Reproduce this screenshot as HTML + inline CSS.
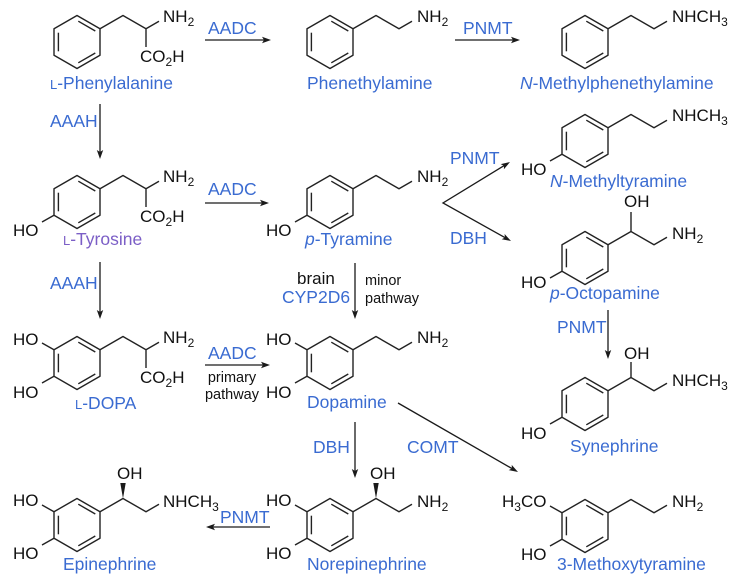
<!DOCTYPE html>
<html><head><meta charset="utf-8"><style>
html,body{margin:0;padding:0;background:#fff;}
svg{display:block;}
.c{font-family:"Liberation Sans",Arial,sans-serif;font-size:17px;fill:#111;}
.l{font-family:"Liberation Sans",Arial,sans-serif;font-size:17.5px;fill:#3a6bd1;}
.s{font-family:"Liberation Sans",Arial,sans-serif;font-size:14.5px;fill:#111;}
.b{fill:none;stroke:#222;stroke-width:1.4;stroke-linejoin:round;}
.a{fill:none;stroke:#1a1a1a;stroke-width:1.3;}
.h{fill:#1a1a1a;stroke:none;}
</style></head><body>
<svg width="733" height="580" viewBox="0 0 733 580" xmlns="http://www.w3.org/2000/svg">
<defs>
<g id="r" class="b">
<polygon points="0,-26.5 23,-13.25 23,13.25 0,26.5 -23,13.25 -23,-13.25"/>
<line x1="1.3" y1="-20.8" x2="18.3" y2="-11"/>
<line x1="-18.6" y1="-9.3" x2="-18.6" y2="9.3"/>
<line x1="18.3" y1="11" x2="1.3" y2="20.8"/>
</g>
</defs>

<!-- Rings -->
<use href="#r" x="77" y="42"/>
<use href="#r" x="330" y="42"/>
<use href="#r" x="585" y="42"/>
<use href="#r" x="77" y="202"/>
<use href="#r" x="330" y="202"/>
<use href="#r" x="585" y="141"/>
<use href="#r" x="585" y="258"/>
<use href="#r" x="77" y="363"/>
<use href="#r" x="330" y="363"/>
<use href="#r" x="585" y="404"/>
<use href="#r" x="77" y="525"/>
<use href="#r" x="330" y="525"/>
<use href="#r" x="585" y="526"/>

<!-- Bonds -->
<path class="b" d="M100,28.75 L123,15.5 L146,28.75 L159,21.25 M146,28.75 L146,47"/>
<path class="b" d="M353,28.75 L376,15.5 L399,28.75 L412,21.25"/>
<path class="b" d="M608,28.75 L631,15.5 L654,28.75 L667,21.25"/>

<path class="b" d="M100,188.75 L123,175.5 L146,188.75 L159,181.25 M146,188.75 L146,207 M54,215.25 L42,222"/>
<path class="b" d="M353,188.75 L376,175.5 L399,188.75 L412,181.25 M307,215.25 L295,222"/>
<path class="b" d="M608,127.75 L631,114.5 L654,127.75 L667,120.25 M562,154.25 L550,161"/>
<path class="b" d="M608,244.75 L631,231.5 L654,244.75 L667,237.25 M631,231.5 L631,212 M562,271.25 L550,278"/>

<path class="b" d="M100,349.75 L123,336.5 L146,349.75 L159,342.25 M146,349.75 L146,368 M54,349.75 L42,343 M54,376.25 L42,383"/>
<path class="b" d="M353,349.75 L376,336.5 L399,349.75 L412,342.25 M307,349.75 L295,343 M307,376.25 L295,383"/>
<path class="b" d="M608,390.75 L631,377.5 L654,390.75 L667,383.25 M631,377.5 L631,362 M562,417.25 L550,424"/>

<path class="b" d="M100,511.75 L123,498.5 L146,511.75 L159,504.25 M54,511.75 L42,505 M54,538.25 L42,545"/>
<polygon class="h" points="123,498.5 120.3,483 125.7,483"/>
<path class="b" d="M353,511.75 L376,498.5 L399,511.75 L412,504.25 M307,511.75 L295,505 M307,538.25 L295,545"/>
<polygon class="h" points="376,498.5 373.3,483 378.7,483"/>
<path class="b" d="M608,512.75 L631,499.5 L654,512.75 L667,505.25 M562,512.75 L550,506 M562,539.25 L550,546"/>

<!-- Atom labels -->
<text class="c" x="163" y="22">NH<tspan font-size="12" dy="4">2</tspan></text>
<text class="c" x="140" y="62">CO<tspan font-size="12" dy="4">2</tspan><tspan dy="-4">H</tspan></text>
<text class="c" x="417" y="22">NH<tspan font-size="12" dy="4">2</tspan></text>
<text class="c" x="672" y="22">NHCH<tspan font-size="12" dy="4">3</tspan></text>

<text class="c" x="163" y="182">NH<tspan font-size="12" dy="4">2</tspan></text>
<text class="c" x="140" y="222">CO<tspan font-size="12" dy="4">2</tspan><tspan dy="-4">H</tspan></text>
<text class="c" x="13" y="236">HO</text>
<text class="c" x="417" y="182">NH<tspan font-size="12" dy="4">2</tspan></text>
<text class="c" x="266" y="236">HO</text>
<text class="c" x="672" y="121">NHCH<tspan font-size="12" dy="4">3</tspan></text>
<text class="c" x="521" y="175">HO</text>
<text class="c" x="624" y="207">OH</text>
<text class="c" x="672" y="239">NH<tspan font-size="12" dy="4">2</tspan></text>
<text class="c" x="521" y="288">HO</text>

<text class="c" x="163" y="343">NH<tspan font-size="12" dy="4">2</tspan></text>
<text class="c" x="140" y="383">CO<tspan font-size="12" dy="4">2</tspan><tspan dy="-4">H</tspan></text>
<text class="c" x="13" y="345">HO</text>
<text class="c" x="13" y="398">HO</text>
<text class="c" x="417" y="343">NH<tspan font-size="12" dy="4">2</tspan></text>
<text class="c" x="266" y="345">HO</text>
<text class="c" x="266" y="398">HO</text>
<text class="c" x="624" y="359">OH</text>
<text class="c" x="672" y="386">NHCH<tspan font-size="12" dy="4">3</tspan></text>
<text class="c" x="521" y="439">HO</text>

<text class="c" x="117" y="479">OH</text>
<text class="c" x="163" y="507">NHCH<tspan font-size="12" dy="4">3</tspan></text>
<text class="c" x="13" y="506">HO</text>
<text class="c" x="13" y="559">HO</text>
<text class="c" x="370" y="479">OH</text>
<text class="c" x="417" y="507">NH<tspan font-size="12" dy="4">2</tspan></text>
<text class="c" x="266" y="506">HO</text>
<text class="c" x="266" y="559">HO</text>
<text class="c" x="502" y="507">H<tspan font-size="12" dy="4">3</tspan><tspan dy="-4">CO</tspan></text>
<text class="c" x="672" y="507">NH<tspan font-size="12" dy="4">2</tspan></text>
<text class="c" x="521" y="560">HO</text>

<!-- Compound names -->
<text class="l" x="50" y="89"><tspan font-size="13">L</tspan>-Phenylalanine</text>
<text class="l" x="307" y="89">Phenethylamine</text>
<text class="l" x="520" y="89"><tspan font-style="italic">N</tspan>-Methylphenethylamine</text>
<text class="l" x="63" y="245" style="fill:#7b5ec6"><tspan font-size="13">L</tspan>-Tyrosine</text>
<text class="l" x="305" y="245"><tspan font-style="italic">p</tspan>-Tyramine</text>
<text class="l" x="550" y="187"><tspan font-style="italic">N</tspan>-Methyltyramine</text>
<text class="l" x="550" y="299"><tspan font-style="italic">p</tspan>-Octopamine</text>
<text class="l" x="75" y="409"><tspan font-size="13">L</tspan>-DOPA</text>
<text class="l" x="307" y="408">Dopamine</text>
<text class="l" x="570" y="452">Synephrine</text>
<text class="l" x="63" y="570">Epinephrine</text>
<text class="l" x="307" y="570">Norepinephrine</text>
<text class="l" x="557" y="570">3-Methoxytyramine</text>

<!-- Enzyme labels -->
<text class="l" x="208" y="34">AADC</text>
<text class="l" x="463" y="34">PNMT</text>
<text class="l" x="50" y="127">AAAH</text>
<text class="l" x="208" y="195">AADC</text>
<text class="l" x="450" y="164">PNMT</text>
<text class="l" x="450" y="244">DBH</text>
<text class="l" x="50" y="289">AAAH</text>
<text class="l" x="208" y="359">AADC</text>
<text class="s" x="232" y="382" text-anchor="middle">primary</text>
<text class="s" x="232" y="399" text-anchor="middle">pathway</text>
<text class="c" x="297" y="284">brain</text>
<text class="l" x="282" y="303">CYP2D6</text>
<text class="s" x="365" y="285">minor</text>
<text class="s" x="365" y="303">pathway</text>
<text class="l" x="557" y="333">PNMT</text>
<text class="l" x="313" y="453">DBH</text>
<text class="l" x="407" y="453">COMT</text>
<text class="l" x="220" y="523">PNMT</text>

<!-- Arrows -->
<path class="a" d="M205,40 L264,40"/>
<polygon class="h" points="271,40 262,36.8 264,40 262,43.2"/>
<path class="a" d="M455,40 L513,40"/>
<polygon class="h" points="520,40 511,36.8 513,40 511,43.2"/>
<path class="a" d="M100,104 L100,152"/>
<polygon class="h" points="100,159 96.8,150 100,152 103.2,150"/>
<path class="a" d="M205,203 L262,203"/>
<polygon class="h" points="269,203 260,199.8 262,203 260,206.2"/>
<path class="a" d="M504,165.7 L443,203 L504.9,237.6"/>
<polygon class="h" points="510,162 503.9,169.3 504,165.7 500.7,164.1"/>
<polygon class="h" points="511,241 501.7,239.2 504.9,237.6 504.6,234"/>
<path class="a" d="M100,262 L100,312"/>
<polygon class="h" points="100,319 96.8,310 100,312 103.2,310"/>
<path class="a" d="M205,365 L263,365"/>
<polygon class="h" points="270,365 261,361.8 263,365 261,368.2"/>
<path class="a" d="M355,263 L355,312"/>
<polygon class="h" points="355,319 351.8,310 355,312 358.2,310"/>
<path class="a" d="M608,310 L608,352"/>
<polygon class="h" points="608,359 604.8,350 608,352 611.2,350"/>
<path class="a" d="M355,422 L355,471"/>
<polygon class="h" points="355,478 351.8,469 355,471 358.2,469"/>
<path class="a" d="M398,403 L511.9,468.5"/>
<polygon class="h" points="518,472 508.7,470.1 511.9,468.5 511.7,464.9"/>
<path class="a" d="M270,527 L213,527"/>
<polygon class="h" points="206,527 215,523.8 213,527 215,530.2"/>
</svg>
</body></html>
